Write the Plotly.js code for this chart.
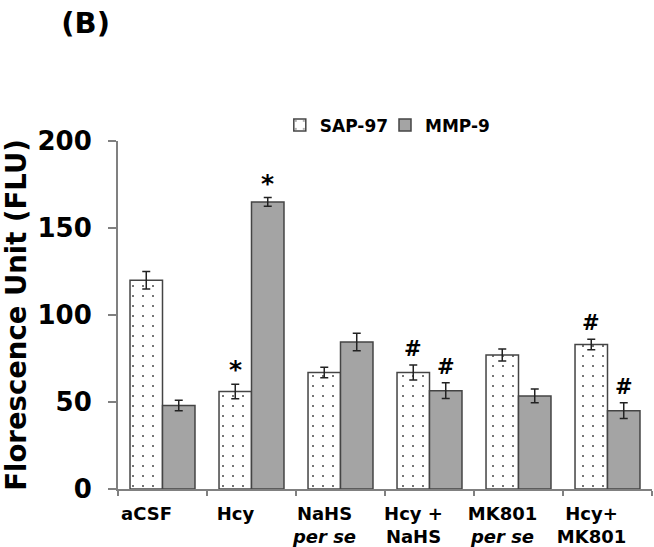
<!DOCTYPE html>
<html>
<head>
<meta charset="utf-8">
<script src="https://cdn.plot.ly/plotly-3.0.1.min.js"></script>
<style>
html, body { margin: 0; padding: 0; background: #fff; }
#chart { width: 654px; height: 547px; }
</style>
</head>
<body>
<div id="chart"></div>
<script>
var categories = ["aCSF", "Hcy", "NaHS<br><i>per se</i>", "Hcy +<br>NaHS", "MK801<br><i>per se</i>", "Hcy+<br>MK801"];
var sap97 = [120, 56, 67, 67, 77, 83];
var sap97Err = [5, 4.2, 3, 4.3, 3.5, 3];
var mmp9 = [48, 165, 84.5, 56.5, 53.5, 45];
var mmp9Err = [3, 2.5, 5, 4.5, 4, 4.5];
var sapMarks = ["", "*", "", "#", "", "#"];
var mmpMarks = ["", "*", "", "#", "", "#"];
var yTicks = [0, 50, 100, 150, 200];

var FONT = "DejaVu Sans, Liberation Sans, Arial, sans-serif";

var traceSAP = {
  type: "bar", name: "SAP-97", x: categories, y: sap97, legend: "legend",
  error_y: { type: "data", array: sap97Err, visible: true, color: "#222", thickness: 1.5, width: 4 },
  marker: {
    color: "#ffffff",
    line: { color: "#444", width: 1.5 },
    pattern: { shape: ".", fgcolor: "#333", bgcolor: "#ffffff", size: 10, solidity: 0.025 }
  }
};
var traceMMP = {
  type: "bar", name: "MMP-9", x: categories, y: mmp9, legend: "legend2",
  error_y: { type: "data", array: mmp9Err, visible: true, color: "#222", thickness: 1.5, width: 4 },
  marker: {
    color: "#aaaaaa",
    line: { color: "#444", width: 1.5 },
    pattern: { shape: ".", fgcolor: "#666", bgcolor: "#d4d4d4", size: 2, solidity: 0.5 }
  }
};

var annotations = [];
function addMarks(marks, vals, errs, shift) {
  for (var i = 0; i < marks.length; i++) {
    if (!marks[i]) continue;
    annotations.push({
      x: categories[i], y: vals[i] + errs[i], xref: "x", yref: "y",
      text: "<b>" + marks[i] + "</b>", showarrow: false,
      xshift: shift, yshift: marks[i] === "*" ? -2 : 2, yanchor: "bottom",
      font: { family: FONT, size: marks[i] === "*" ? 25 : 21, color: "#000" }
    });
  }
}
addMarks(sapMarks, sap97, sap97Err, -16.25);
addMarks(mmpMarks, mmp9, mmp9Err, 16.25);

function legendAt(x) {
  return {
    orientation: "h", x: x, xanchor: "left", y: 1.045, yanchor: "middle",
    font: { family: FONT, size: 17, color: "#000", weight: "bold" },
    bgcolor: "rgba(0,0,0,0)", itemwidth: 30
  };
}

var layout = {
  width: 654, height: 547,
  margin: { l: 118, r: 2, t: 141, b: 58 },
  paper_bgcolor: "#fff", plot_bgcolor: "#fff",
  font: { family: FONT, color: "#000" },
  title: {
    text: "<b>(B)</b>", xref: "container", yref: "container",
    x: 0.131, xanchor: "center", y: 0.958, yanchor: "middle",
    font: { family: FONT, size: 29, color: "#000" }
  },
  barmode: "group", bargap: 0.27, bargroupgap: 0,
  showlegend: true,
  legend: legendAt(0.303),
  legend2: legendAt(0.5),
  xaxis: {
    type: "category", showgrid: false, zeroline: false,
    showline: true, linecolor: "#808080", linewidth: 2,
    ticks: "outside", tickson: "boundaries", ticklen: 5, tickcolor: "#808080", tickwidth: 1.5,
    tickfont: { family: FONT, size: 18, color: "#000", weight: "bold" },
    ticklabelshift: -16, ticklabelstandoff: 7,
    fixedrange: true
  },
  yaxis: {
    range: [0, 200], tickvals: yTicks, ticktext: yTicks.map(String),
    showgrid: false, zeroline: false,
    showline: true, linecolor: "#808080", linewidth: 2,
    ticks: "outside", ticklen: 8, tickcolor: "#808080", tickwidth: 1.5,
    tickfont: { family: FONT, size: 26, color: "#000", weight: "bold" },
    ticklabelstandoff: 11,
    title: { text: "<b>Florescence Unit (FLU)</b>", standoff: 13, font: { family: FONT, size: 27.5, color: "#000" } },
    fixedrange: true
  },
  annotations: annotations
};

Plotly.newPlot("chart", [traceSAP, traceMMP], layout, { displayModeBar: false, staticPlot: true });
</script>
</body>
</html>
